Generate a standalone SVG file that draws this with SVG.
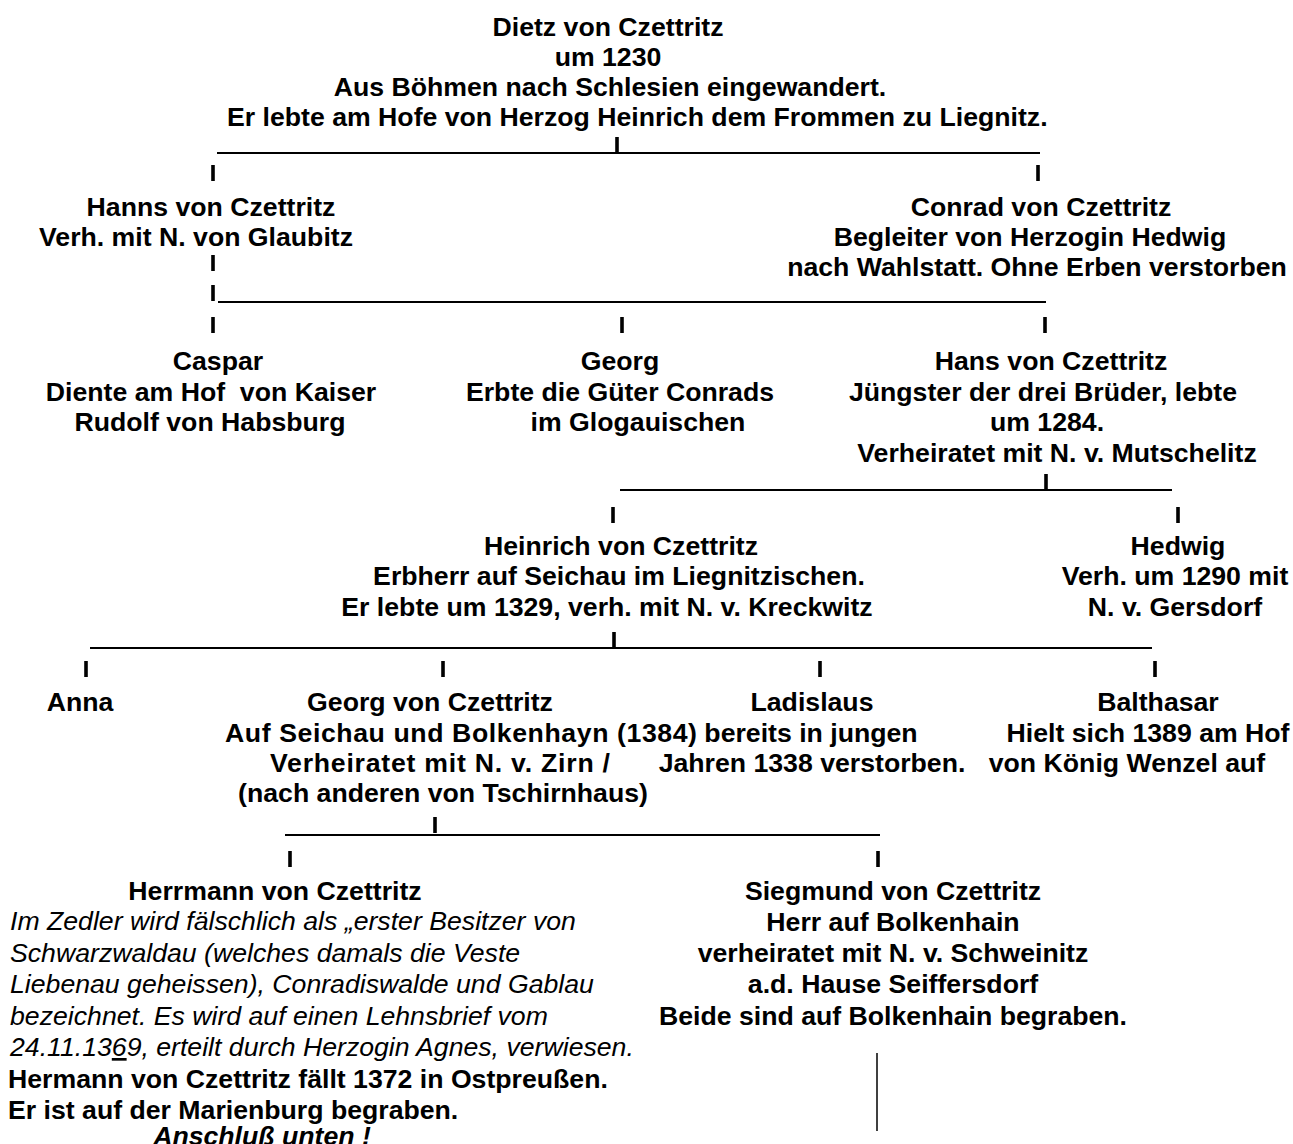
<svg xmlns="http://www.w3.org/2000/svg" width="1293" height="1144" viewBox="0 0 1293 1144">
<style>
text { font-family: "Liberation Sans", Arial, sans-serif; font-size: 26.67px; font-weight: bold; fill: #000; white-space: pre; }
.m { text-anchor: middle; }
.it { font-style: italic; font-weight: normal; }
.bi { font-style: italic; }
.bar { stroke: #000; stroke-width: 3.6; fill: none; }
.hl { stroke: #000; stroke-width: 2; fill: none; }
.vl { stroke: #000; stroke-width: 1.5; fill: none; }
</style>
<rect width="1293" height="1144" fill="#fff"/>
<g id="connectors">
  <line class="hl" x1="217" y1="153" x2="1040" y2="153"/>
  <line class="bar" x1="617" y1="137" x2="617" y2="153"/>
  <line class="bar" x1="213" y1="165" x2="213" y2="181"/>
  <line class="bar" x1="1038" y1="165" x2="1038" y2="181"/>
  <line class="bar" x1="213" y1="255" x2="213" y2="271"/>
  <line class="bar" x1="213" y1="285" x2="213" y2="301"/>
  <line class="hl" x1="218" y1="302" x2="1046" y2="302"/>
  <line class="bar" x1="213" y1="317" x2="213" y2="333"/>
  <line class="bar" x1="622" y1="317" x2="622" y2="333"/>
  <line class="bar" x1="1045" y1="317" x2="1045" y2="333"/>
  <line class="hl" x1="620" y1="490" x2="1172" y2="490"/>
  <line class="bar" x1="1046" y1="474" x2="1046" y2="490"/>
  <line class="bar" x1="613" y1="507" x2="613" y2="523"/>
  <line class="bar" x1="1178" y1="507" x2="1178" y2="523"/>
  <line class="hl" x1="90" y1="648" x2="1152" y2="648"/>
  <line class="bar" x1="614" y1="632" x2="614" y2="648"/>
  <line class="bar" x1="86" y1="661" x2="86" y2="677"/>
  <line class="bar" x1="443" y1="661" x2="443" y2="677"/>
  <line class="bar" x1="820" y1="661" x2="820" y2="677"/>
  <line class="bar" x1="1155" y1="661" x2="1155" y2="677"/>
  <line class="hl" x1="285" y1="835" x2="880" y2="835"/>
  <line class="bar" x1="435" y1="817" x2="435" y2="833"/>
  <line class="bar" x1="290" y1="851" x2="290" y2="867"/>
  <line class="bar" x1="878" y1="851" x2="878" y2="867"/>
  <line class="vl" x1="877" y1="1053" x2="877" y2="1131"/>
</g>
<g id="dietz">
  <text class="m" x="608" y="36">Dietz von Czettritz</text>
  <text class="m" x="608" y="66">um 1230</text>
  <text class="m" x="610" y="96">Aus Böhmen nach Schlesien eingewandert.</text>
  <text x="227" y="126">Er lebte am Hofe von Herzog Heinrich dem Frommen zu Liegnitz.</text>
</g>
<g id="hanns">
  <text class="m" x="211" y="216">Hanns von Czettritz</text>
  <text class="m" x="196" y="246">Verh. mit N. von Glaubitz</text>
</g>
<g id="conrad">
  <text class="m" x="1041" y="216">Conrad von Czettritz</text>
  <text class="m" x="1030" y="246">Begleiter von Herzogin Hedwig</text>
  <text class="m" x="1037" y="276">nach Wahlstatt. Ohne Erben verstorben</text>
</g>
<g id="caspar">
  <text class="m" x="218" y="370">Caspar</text>
  <text class="m" x="211" y="401">Diente am Hof  von Kaiser</text>
  <text class="m" x="210" y="431">Rudolf von Habsburg</text>
</g>
<g id="georg">
  <text class="m" x="620" y="370">Georg</text>
  <text class="m" x="620" y="401">Erbte die Güter Conrads</text>
  <text class="m" x="638" y="431">im Glogauischen</text>
</g>
<g id="hans">
  <text class="m" x="1051" y="370">Hans von Czettritz</text>
  <text class="m" x="1043" y="401">Jüngster der drei Brüder, lebte</text>
  <text class="m" x="1047" y="431">um 1284.</text>
  <text class="m" x="1057" y="462">Verheiratet mit N. v. Mutschelitz</text>
</g>
<g id="heinrich">
  <text class="m" x="621" y="555">Heinrich von Czettritz</text>
  <text class="m" x="619" y="585">Erbherr auf Seichau im Liegnitzischen.</text>
  <text class="m" x="607" y="616">Er lebte um 1329, verh. mit N. v. Kreckwitz</text>
</g>
<g id="hedwig">
  <text class="m" x="1178" y="555">Hedwig</text>
  <text class="m" x="1175" y="585">Verh. um 1290 mit</text>
  <text class="m" x="1175" y="616">N. v. Gersdorf</text>
</g>
<g id="anna">
  <text class="m" x="80" y="711">Anna</text>
</g>
<g id="georg2">
  <text class="m" x="430" y="711">Georg von Czettritz</text>
  <text class="m" x="461" y="742" textLength="472" lengthAdjust="spacing">Auf Seichau und Bolkenhayn (1384)</text>
  <text class="m" x="440" y="772" textLength="340" lengthAdjust="spacing">Verheiratet mit N. v. Zirn /</text>
  <text class="m" x="443" y="802">(nach anderen von Tschirnhaus)</text>
</g>
<g id="ladislaus">
  <text class="m" x="812" y="711">Ladislaus</text>
  <text class="m" x="811" y="742">bereits in jungen</text>
  <text class="m" x="812" y="772">Jahren 1338 verstorben.</text>
</g>
<g id="balthasar">
  <text class="m" x="1158" y="711">Balthasar</text>
  <text class="m" x="1148" y="742">Hielt sich 1389 am Hof</text>
  <text class="m" x="1127" y="772">von König Wenzel auf</text>
</g>
<g id="herrmann">
  <text class="m" x="275" y="900">Herrmann von Czettritz</text>
  <text class="it" x="10" y="930">Im Zedler wird fälschlich als „erster Besitzer von</text>
  <text class="it" x="10" y="962">Schwarzwaldau (welches damals die Veste</text>
  <text class="it" x="10" y="993">Liebenau geheissen), Conradiswalde und Gablau</text>
  <text class="it" x="10" y="1025">bezeichnet. Es wird auf einen Lehnsbrief vom</text>
  <text class="it" x="10" y="1056">24.11.13<tspan text-decoration="underline">6</tspan>9, erteilt durch Herzogin Agnes, verwiesen.</text>
  <text x="8" y="1088">Hermann von Czettritz fällt 1372 in Ostpreußen.</text>
  <text x="8" y="1119">Er ist auf der Marienburg begraben.</text>
  <text class="m bi" x="262" y="1145">Anschluß unten !</text>
</g>
<g id="siegmund">
  <text class="m" x="893" y="900">Siegmund von Czettritz</text>
  <text class="m" x="893" y="931">Herr auf Bolkenhain</text>
  <text class="m" x="893" y="962">verheiratet mit N. v. Schweinitz</text>
  <text class="m" x="893" y="993">a.d. Hause Seiffersdorf</text>
  <text class="m" x="893" y="1025">Beide sind auf Bolkenhain begraben.</text>
</g>
</svg>
